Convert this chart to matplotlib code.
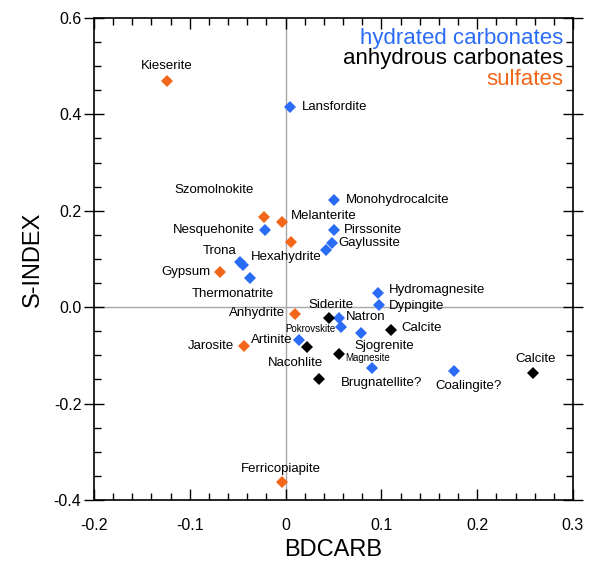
import matplotlib
matplotlib.use('Agg')
import matplotlib.pyplot as plt
from matplotlib.ticker import MultipleLocator

plt.rcParams['font.family'] = ['Liberation Sans', 'DejaVu Sans']

# 各组矿物 (BDCARB, S-INDEX)
hyd_names = ['Lansfordite', 'Monohydrocalcite', 'Nesquehonite', 'Pirssonite', 'Gaylussite', '',
             'Trona', '', 'Thermonatrite', 'Hydromagnesite', 'Dypingite', 'Natron',
             'Pokrovskite', 'Sjogrenite', 'Artinite', 'Brugnatellite?', 'Coalingite?']
hyd_x = [0.005, 0.051, -0.021, 0.051, 0.048, 0.042, -0.048, -0.044, -0.037, 0.096, 0.097,
         0.056, 0.058, 0.079, 0.014, 0.090, 0.176]
hyd_y = [0.415, 0.222, 0.160, 0.160, 0.133, 0.118, 0.093, 0.087, 0.060, 0.029, 0.004,
         -0.023, -0.041, -0.054, -0.068, -0.127, -0.133]

anh_names = ['Siderite', 'Calcite', 'Magnesite', '', 'Nacohlite', 'Calcite']
anh_x = [0.045, 0.110, 0.056, 0.022, 0.035, 0.258]
anh_y = [-0.023, -0.048, -0.098, -0.083, -0.149, -0.137]

sul_names = ['Kieserite', 'Szomolnokite', 'Melanterite', 'Hexahydrite', 'Gypsum',
             'Anhydrite', 'Jarosite', 'Ferricopiapite']
sul_x = [-0.124, -0.023, -0.004, 0.006, -0.068, 0.010, -0.043, -0.004]
sul_y = [0.469, 0.187, 0.176, 0.135, 0.073, -0.015, -0.081, -0.363]

BLUE = '#2b6cf6'
BLACK = '#000000'
ORANGE = '#f2661a'

# 标签偏移 (像素): dx, dy, ha
label_pos = {
    'Lansfordite': (11, 0, 'left'),
    'Monohydrocalcite': (11, 0, 'left'),
    'Nesquehonite': (-11, 0, 'right'),
    'Pirssonite': (9, 0, 'left'),
    'Gaylussite': (7, 0, 'left'),
    'Trona': (-3, 11, 'right'),
    'Thermonatrite': (-17, -16, 'center'),
    'Hydromagnesite': (11, 3, 'left'),
    'Dypingite': (10, -1, 'left'),
    'Natron': (7, 1, 'left'),
    'Pokrovskite': (-6, -2, 'right'),
    'Sjogrenite': (23, -13, 'center'),
    'Artinite': (-7, 0, 'right'),
    'Brugnatellite?': (10, -15, 'center'),
    'Coalingite?': (14, -15, 'center'),
    'Siderite': (2, 13, 'center'),
    'Calcite': (10, 2, 'left'),
    'Magnesite': (6, -4, 'left'),
    'Nacohlite': (-24, 16, 'center'),
    'Kieserite': (0, 15, 'center'),
    'Szomolnokite': (-10, 27, 'right'),
    'Melanterite': (9, 6, 'left'),
    'Hexahydrite': (-5, -15, 'center'),
    'Gypsum': (-10, 0, 'right'),
    'Anhydrite': (-10, 1, 'right'),
    'Jarosite': (-10, 0, 'right'),
    'Ferricopiapite': (-1, 13, 'center'),
}
small_labels = ['Pokrovskite', 'Magnesite']

fig = plt.figure(figsize=(5.92, 5.67), dpi=100)
ax = fig.add_axes([94 / 592, 1 - 500 / 567, 479 / 592, 482 / 567])

ax.axhline(0, color='#a8a8a8', lw=1, zorder=1)
ax.axvline(0, color='#a8a8a8', lw=1, zorder=1)

groups = [(hyd_names, hyd_x, hyd_y, BLUE),
          (anh_names, anh_x, anh_y, BLACK),
          (sul_names, sul_x, sul_y, ORANGE)]

for names, xs, ys, c in groups:
    ax.plot(xs, ys, 'D', color=c, markersize=6.3, markeredgewidth=0, zorder=3)
    for i, (n, x, y) in enumerate(zip(names, xs, ys)):
        if not n:
            continue
        dx, dy, ha = label_pos[n]
        # 右侧的第二个 Calcite
        if n == 'Calcite' and x > 0.2:
            dx, dy, ha = 3, 14, 'center'
        fs = 7 if n in small_labels else 9.5
        ax.annotate(n, (x, y), xytext=(dx, dy), textcoords='offset pixels',
                    ha=ha, va='center', fontsize=fs, zorder=4)

ax.text(0.98, 0.957, 'hydrated carbonates', color=BLUE, fontsize=16,
        ha='right', va='center', transform=ax.transAxes)
ax.text(0.98, 0.915, 'anhydrous carbonates', color=BLACK, fontsize=16,
        ha='right', va='center', transform=ax.transAxes)
ax.text(0.98, 0.873, 'sulfates', color=ORANGE, fontsize=16,
        ha='right', va='center', transform=ax.transAxes)

ax.set_xlim(-0.2, 0.3)
ax.set_ylim(-0.4, 0.6)
ax.xaxis.set_minor_locator(MultipleLocator(0.02))
ax.yaxis.set_minor_locator(MultipleLocator(0.05))
ax.set_xticks([-0.2, -0.1, 0, 0.1, 0.2, 0.3])
ax.set_xticklabels(['-0.2', '-0.1', '0', '0.1', '0.2', '0.3'])
ax.set_yticks([-0.4, -0.2, 0.0, 0.2, 0.4, 0.6])
ax.set_yticklabels(['-0.4', '-0.2', '0.0', '0.2', '0.4', '0.6'])

ax.tick_params(axis='x', which='major', direction='in', length=8, width=1,
               top=True, labelsize=11.5, pad=13)
ax.tick_params(axis='x', which='minor', direction='in', length=5, width=1, top=True)
ax.tick_params(axis='y', which='major', direction='inout', length=14, width=1,
               right=True, labelsize=11.5, pad=2)
ax.tick_params(axis='y', which='minor', direction='in', length=5, width=1, right=True)
for s in ax.spines.values():
    s.set_linewidth(1.2)

ax.set_xlabel('BDCARB', fontsize=17, labelpad=4)
ax.set_ylabel('S-INDEX', fontsize=17, labelpad=7)

plt.savefig('out.png', dpi=100)
